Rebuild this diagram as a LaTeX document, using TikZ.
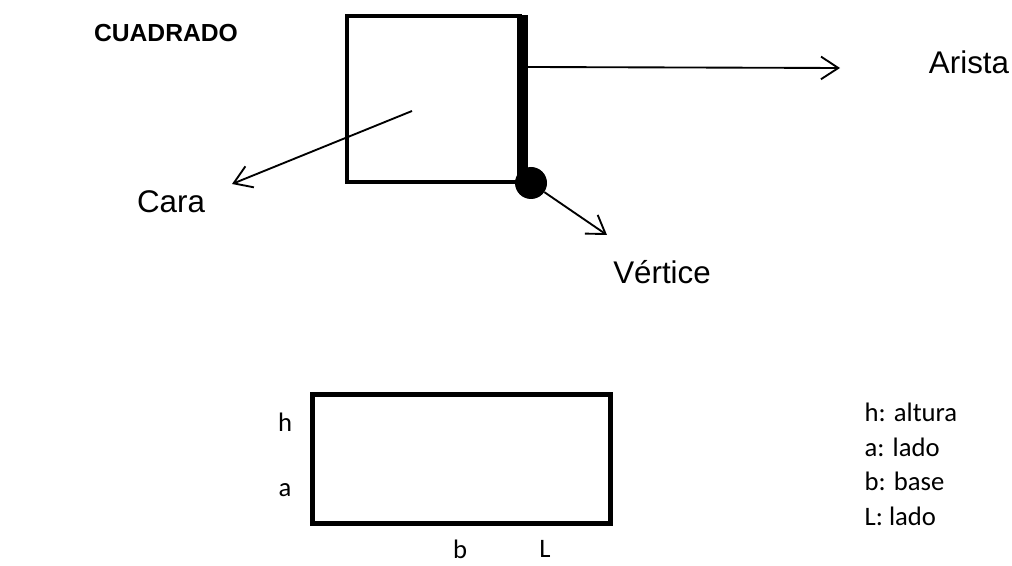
\documentclass[tikz,border=0pt]{standalone}
\usepackage{fontspec}
\setmainfont{Liberation Sans}
\newfontfamily\calfont{Carlito}
\usetikzlibrary{arrows.meta, positioning}

\begin{document}
\begin{tikzpicture}[x=0.75pt, y=-0.75pt,
  lbl/.style={font=\fontsize{23.5}{27}\selectfont},
  note/.style={font=\calfont\fontsize{20}{24}\selectfont},
  arr/.style={-{Straight Barb[length=13pt, width=17pt]}, line width=1.4pt}
]
\useasboundingbox (0,0) rectangle (1012,566);

% square and its parts
\node[draw, line width=3pt, minimum width=130pt, minimum height=124.5pt, inner sep=0pt] (cuadro) at (433.5,99) {};
\node[fill=black, minimum width=8pt, minimum height=126pt, inner sep=0pt] (arista) at (522.5,99) {};
\node[circle, fill=black, minimum size=24pt, inner sep=0pt] (vertice) at (531,183) {};
\node[font=\bfseries\fontsize{18.5}{22}\selectfont] (titulo) at (166,33) {CUADRADO};

\node[lbl] (larista) at (969,62) {Arista};
\node[lbl] (lcara) at (171,202) {Cara};
\node[lbl] (lvertice) at (662,272) {Vértice};

\coordinate (aristaini) at (528,67);
\coordinate (aristafin) at (840,68);
\coordinate (caraini) at (412,111);
\coordinate (carafin) at (232,184);
\coordinate (verticefin) at (607,235);

\draw[arr] (aristaini) -- (aristafin);
\draw[arr] (caraini) -- (carafin);
\draw[arr] (vertice) -- (verticefin);

% rectangle with labels
\node[draw, line width=3.75pt, minimum width=223.5pt, minimum height=96.75pt, inner sep=0pt] (rect) at (461.5,459) {};
\node[note] (lh) at (285,422) {h};
\node[note] (la) at (285,490) {a};
\node[note] (lb) at (460,549) {b};
\node[note] (lL) at (545,549) {L};

\node[note, anchor=west] (n1) at (860,412) {h: altura};
\node[note, anchor=west] (n2) at (860,447) {a: lado};
\node[note, anchor=west] (n3) at (860,481) {b: base};
\node[note, anchor=west] (n4) at (860,516) {L: lado};
\end{tikzpicture}
\end{document}
